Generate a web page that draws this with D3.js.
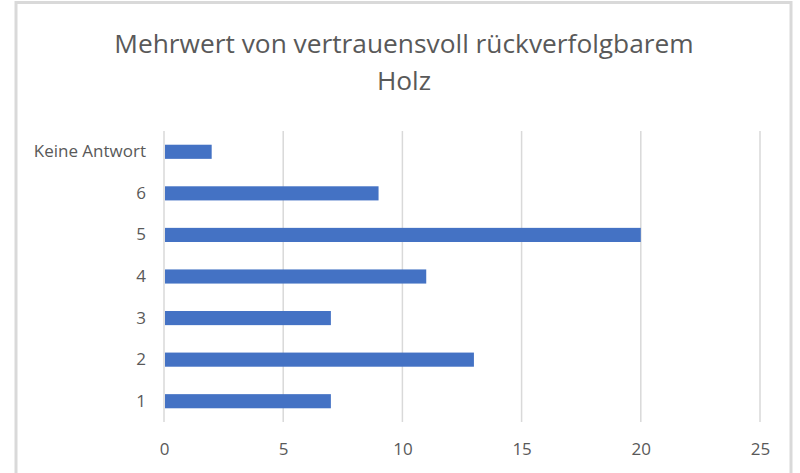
<!DOCTYPE html>
<html><head><meta charset="utf-8">
<script src="https://cdn.jsdelivr.net/npm/d3@7"></script>
<style>body{margin:0;background:#fff}svg{display:block}</style>
</head><body>
<svg id="c" width="800" height="473"></svg>
<script>
const categories = ["Keine Antwort","6","5","4","3","2","1"];
const values = [2,9,20,11,7,13,7];
const xTicks = [0,5,10,15,20,25];
const titleLines = ["Mehrwert von vertrauensvoll rückverfolgbarem","Holz"];

const svg = d3.select("#c");
const font = "'Open Sans', sans-serif";
// frame
svg.append("rect").attr("x",16).attr("y",2.5).attr("width",775).attr("height",480)
  .attr("fill","#fff").attr("stroke","#d9d9d9").attr("stroke-width",3);

const x = d3.scaleLinear().domain([0,25]).range([164,760]);
const y = d3.scaleBand().domain(categories).range([131,422]).paddingInner(0.66).paddingOuter(0.33);

// gridlines
svg.append("g").selectAll("line").data(xTicks).join("line")
  .attr("x1",d=>x(d)).attr("x2",d=>x(d)).attr("y1",131).attr("y2",422)
  .attr("stroke","#d9d9d9").attr("stroke-width",1.5);

// bars
svg.append("g").selectAll("rect").data(values).join("rect")
  .attr("x",x(0)+1).attr("y",(d,i)=>y(categories[i]))
  .attr("width",d=>x(d)-x(0)-1).attr("height",y.bandwidth())
  .attr("fill","#4472C4");

// x axis labels
const xa = svg.append("g").attr("transform","translate(0,422)")
  .call(d3.axisBottom(x).tickValues(xTicks).tickSize(0).tickPadding(21));
xa.select(".domain").remove();
xa.selectAll("text").attr("font-family",font).attr("font-size",17).attr("fill","#595959");

// y axis labels
const ya = svg.append("g").attr("transform","translate(164,0)")
  .call(d3.axisLeft(y).tickSize(0).tickPadding(18));
ya.select(".domain").remove();
ya.selectAll("text").attr("font-family",font).attr("font-size",17).attr("fill","#595959");

// title
svg.append("g").selectAll("text").data(titleLines).join("text")
  .attr("x",404).attr("y",(d,i)=>53+i*37).attr("text-anchor","middle")
  .attr("font-family",font).attr("font-size",26.3).attr("fill","#595959").text(d=>d);
</script>
</body></html>
